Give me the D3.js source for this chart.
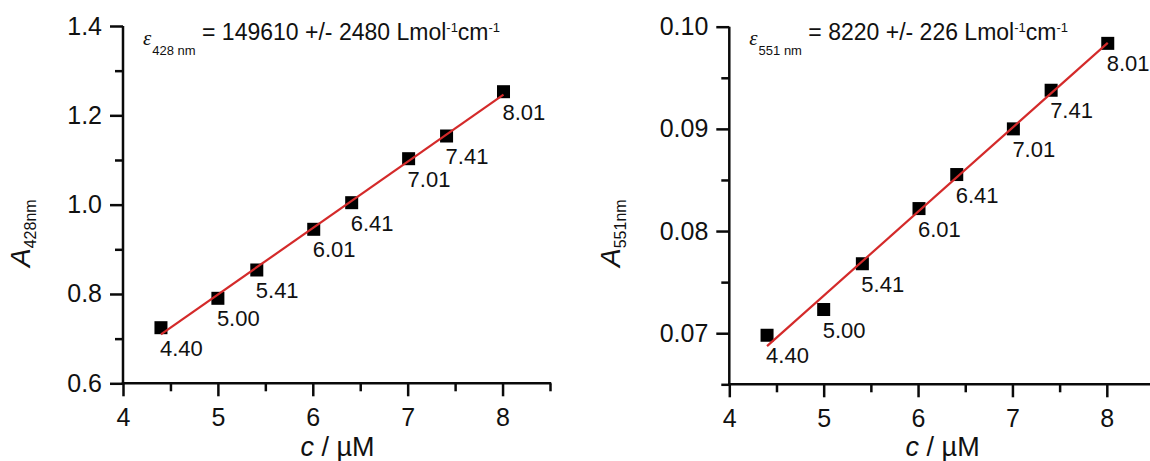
<!DOCTYPE html>
<html>
<head>
<meta charset="utf-8">
<script src="https://cdn.jsdelivr.net/npm/d3@7/dist/d3.min.js"></script>
<style>
  html, body { margin: 0; padding: 0; background: #fff; }
  svg { display: block; }
  text { font-family: Arial, "Liberation Sans", Helvetica, sans-serif; fill: #111; }
</style>
</head>
<body>
<svg id="chart" width="1150" height="461"></svg>
<script>
// Concentrations (µM) shared by both calibration series
const concentrations = [4.40, 5.00, 5.41, 6.01, 6.41, 7.01, 7.41, 8.01];
const pointLabels = ["4.40", "5.00", "5.41", "6.01", "6.41", "7.01", "7.41", "8.01"];

// Absorbance at 428 nm and 551 nm
const absorbance428 = [0.7245, 0.7903, 0.8537, 0.9448, 1.0044, 1.1029, 1.1537, 1.2529];
const absorbance551 = [0.0698, 0.07232, 0.0768, 0.0822, 0.08553, 0.0900, 0.09378, 0.09837];

// Axis ticks
const xMajorTicks = [4, 5, 6, 7, 8];
const xMinorTicks = [4.5, 5.5, 6.5, 7.5, 8.5];
const y428MajorTicks = [0.6, 0.8, 1.0, 1.2, 1.4];
const y428MinorTicks = [0.7, 0.9, 1.1, 1.3];
const y551MajorTicks = [0.07, 0.08, 0.09, 0.10];
const y551MinorTicks = [0.065, 0.075, 0.085, 0.095];

// Annotations
const eps428 = { wl: "428 nm", text: " = 149610 +/- 2480 Lmol" };
const eps551 = { wl: "551 nm", text: " = 8220 +/- 226 Lmol" };

const svg = d3.select("#chart");
const ink = "#0a0a0a";

// Least-squares straight line through the points
function linearFit(xs, ys) {
  const mx = d3.mean(xs), my = d3.mean(ys);
  let sxy = 0, sxx = 0;
  xs.forEach((x, i) => { sxy += (x - mx) * (ys[i] - my); sxx += (x - mx) * (x - mx); });
  const slope = sxy / sxx;
  return { slope, intercept: my - slope * mx };
}

function drawPanel(cfg) {
  const x = d3.scaleLinear().domain([4, 8.5]).range(cfg.xRange);
  const y = d3.scaleLinear().domain(cfg.yDomain).range(cfg.yRange);
  const g = svg.append("g");
  const x0 = cfg.xRange[0], y0 = cfg.yRange[0];

  // Minor ticks
  g.append("g").attr("transform", `translate(0,${y0})`)
    .call(d3.axisBottom(x).tickValues(xMinorTicks).tickSize(8).tickSizeOuter(0).tickFormat(""))
    .call(s => s.select(".domain").remove());
  g.append("g").attr("transform", `translate(${x0},0)`)
    .call(d3.axisLeft(y).tickValues(cfg.yMinor).tickSize(8).tickSizeOuter(0).tickFormat(""))
    .call(s => s.select(".domain").remove());

  // Major ticks with labels
  const xa = g.append("g").attr("transform", `translate(0,${y0})`)
    .call(d3.axisBottom(x).tickValues(xMajorTicks).tickSize(13).tickSizeOuter(0)
      .tickPadding(12).tickFormat(d3.format("d")));
  const ya = g.append("g").attr("transform", `translate(${x0},0)`)
    .call(d3.axisLeft(y).tickValues(cfg.yMajor).tickSize(13).tickSizeOuter(0)
      .tickPadding(8).tickFormat(d3.format(cfg.yFormat)));
  [xa, ya].forEach(a => {
    a.selectAll("text").style("font-size", "25px").attr("fill", ink);
    a.select(".domain").remove();
  });
  g.selectAll(".tick line").attr("stroke", ink).attr("stroke-width", 2.5);

  // Axis lines
  g.append("line").attr("x1", x0).attr("x2", x0)
    .attr("y1", y(cfg.yDomain[0]) + 1.25).attr("y2", y(cfg.yDomain[1]))
    .attr("stroke", ink).attr("stroke-width", 2.5);
  g.append("line").attr("x1", x0 - 1.25).attr("x2", x(8.5) + 1.25)
    .attr("y1", y0).attr("y2", y0)
    .attr("stroke", ink).attr("stroke-width", 2.5);

  // Data squares
  g.selectAll("rect.pt").data(concentrations).join("rect")
    .attr("class", "pt")
    .attr("x", d => x(d) - 6.5).attr("y", (d, i) => y(cfg.values[i]) - 6.5)
    .attr("width", 13).attr("height", 13)
    .attr("fill", "#000");

  // Fitted line
  const fit = linearFit(concentrations, cfg.values);
  const xs = d3.extent(concentrations);
  g.append("line")
    .attr("x1", x(xs[0])).attr("y1", y(fit.intercept + fit.slope * xs[0]))
    .attr("x2", x(xs[1])).attr("y2", y(fit.intercept + fit.slope * xs[1]))
    .attr("stroke", "#d42a2a").attr("stroke-width", 2.2);

  // Point labels
  g.selectAll("text.pl").data(concentrations).join("text")
    .attr("class", "pl")
    .attr("x", d => x(d) - 1)
    .attr("y", (d, i) => y(cfg.values[i]) + 28)
    .style("font-size", "22px")
    .text((d, i) => pointLabels[i]);

  // Molar absorptivity annotation
  const ann = g.append("text").attr("x", x0 + 20).attr("y", 40).style("font-size", "23px");
  ann.append("tspan").attr("dy", 5)
    .style("font-family", "'Liberation Serif', 'Times New Roman', serif")
    .style("font-style", "italic").style("font-size", "21px").text("ε");
  ann.append("tspan").attr("dy", 10).attr("dx", 1).style("font-size", "13px").text(cfg.eps.wl);
  ann.append("tspan").attr("dy", -15).text(cfg.eps.text);
  ann.append("tspan").attr("dy", -8).style("font-size", "13px").text("-1");
  ann.append("tspan").attr("dy", 8).text("cm");
  ann.append("tspan").attr("dy", -8).style("font-size", "13px").text("-1");

  // Axis titles
  const xt = g.append("text")
    .attr("x", (cfg.xRange[0] + cfg.xRange[1]) / 2 + 1).attr("y", 456)
    .attr("text-anchor", "middle").style("font-size", "27px");
  xt.append("tspan").style("font-style", "italic").text("c");
  xt.append("tspan").text(" / µM");

  const yt = g.append("text")
    .attr("transform", `translate(${cfg.yTitleX},267) rotate(-90)`)
    .attr("text-anchor", "start");
  yt.append("tspan").style("font-style", "italic").style("font-size", "28px").text("A");
  yt.append("tspan").attr("dy", 6).style("font-size", "16px").text(cfg.sub);
}

drawPanel({
  xRange: [123, 550], yRange: [383.3, 26], yDomain: [0.6, 1.4],
  yMajor: y428MajorTicks, yMinor: y428MinorTicks, yFormat: ".1f",
  values: absorbance428, eps: eps428, sub: "428nm", yTitleX: 30
});

drawPanel({
  xRange: [729.3, 1154], yRange: [384.3, 26.7], yDomain: [0.065, 0.10],
  yMajor: y551MajorTicks, yMinor: y551MinorTicks, yFormat: ".2f",
  values: absorbance551, eps: eps551, sub: "551nm", yTitleX: 620
});
</script>
</body>
</html>
